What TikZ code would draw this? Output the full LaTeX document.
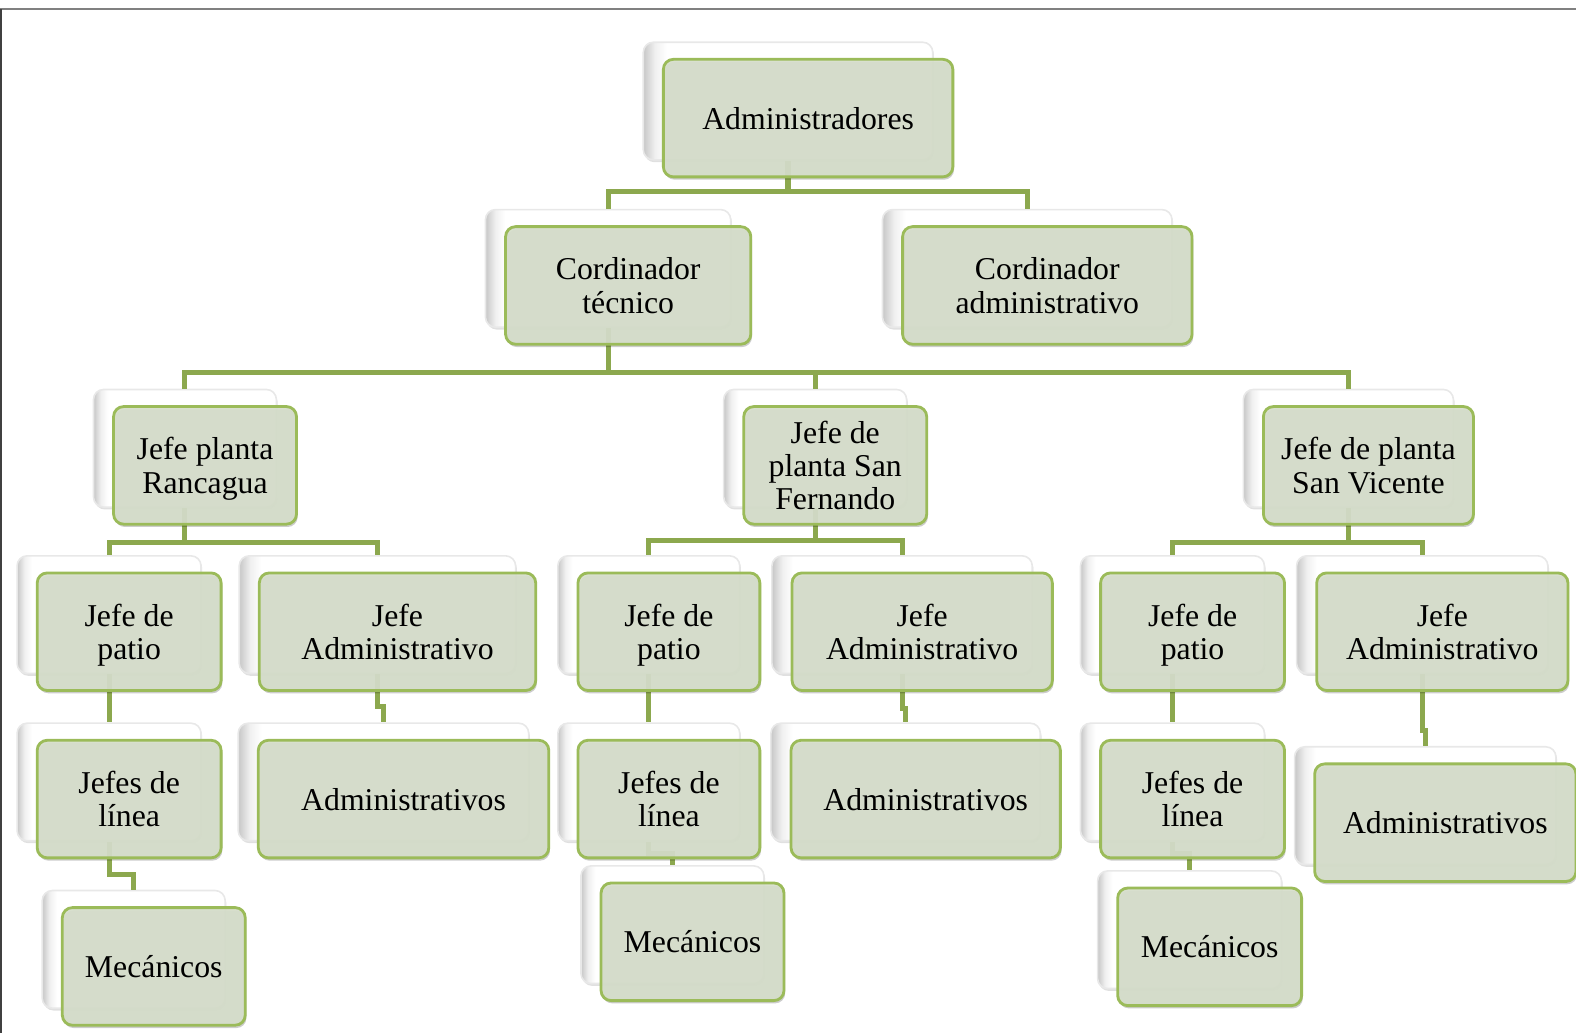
\documentclass[tikz,border=0pt]{standalone}
\usepackage{fontspec}
\setmainfont{Liberation Serif}
\usetikzlibrary{shadows}

\definecolor{boxfill}{RGB}{214,222,203}
\definecolor{boxedge}{RGB}{155,187,89}
\definecolor{linkgreen}{RGB}{140,168,78}

% soft grey fading along the left edge of the white back cards
\pgfdeclarehorizontalshading{cardshade}{100bp}{%
  color(0bp)=(black!22); color(25bp)=(black!22); color(27bp)=(black!6);
  color(29bp)=(white); color(100bp)=(white)}

\pgfdeclarelayer{backboxes}
\pgfdeclarelayer{links}
\pgfsetlayers{backboxes,links,main}

\tikzset{
  backbox/.style={draw=black!9, line width=0.8pt, shading=cardshade, rounded corners=5pt,
    minimum height=58.5pt, inner sep=0pt,
    drop shadow={shadow xshift=0.6pt, shadow yshift=-1.2pt, fill=black, opacity=0.12}},
  frontbox/.style={draw=boxedge, line width=1.4pt, fill=boxfill, fill opacity=0.93,
    text opacity=1, rounded corners=5pt, minimum height=58.5pt, inner sep=0pt,
    align=center, font=\fontsize{15.8}{16.5}\selectfont, text depth=0pt,
    drop shadow={shadow xshift=0.6pt, shadow yshift=-1.4pt, fill=black, opacity=0.2}},
  conn/.style={draw=linkgreen, line width=2.5pt},
  frameline/.style={line width=0.9pt}
}

% name, centre x, centre y, width (px), text
\newcommand{\orgbox}[5]{%
  \begin{pgfonlayer}{backboxes}
    \node[backbox, minimum width=#4*0.5pt] (#1-b) at (#2-20,#3-17) {};
  \end{pgfonlayer}
  \node[frontbox, minimum width=#4*0.5pt] (#1) at (#2,#3) {#5};
}

\begin{document}
\begin{tikzpicture}[x=0.5pt,y=-0.5pt]
\useasboundingbox (0,0) rectangle (1568,1028);

% page frame
\draw[frameline, draw=black!50] (0,9) -- (1568,9);
\draw[frameline, draw=black!75, line width=1.2pt] (1,9) -- (1,1028);

% boxes
\orgbox{adm}{804}{117.5}{288}{Administradores}
\orgbox{ct}{625}{284}{244}{Cordinador\\técnico}
\orgbox{ca}{1042}{284}{288}{Cordinador\\administrativo}

\orgbox{jr}{204}{463}{182}{Jefe planta\\Rancagua}
\orgbox{jsf}{831}{463}{182}{Jefe de\\planta San\\Fernando}
\orgbox{jsv}{1361.5}{463}{209}{Jefe de planta\\San Vicente}

\orgbox{p1}{128.5}{628.5}{183}{Jefe de\\patio}
\orgbox{a1}{395.5}{628.5}{275}{Jefe\\Administrativo}
\orgbox{p2}{665.5}{628.5}{181}{Jefe de\\patio}
\orgbox{a2}{917.5}{628.5}{259}{Jefe\\Administrativo}
\orgbox{p3}{1186.5}{628.5}{183}{Jefe de\\patio}
\orgbox{a3}{1435}{628.5}{250}{Jefe\\Administrativo}

\orgbox{l1}{128.5}{795}{183}{Jefes de\\línea}
\orgbox{ad1}{401.5}{795}{289}{Administrativos}
\orgbox{l2}{665.5}{795}{181}{Jefes de\\línea}
\orgbox{ad2}{921}{795}{268}{Administrativos}
\orgbox{l3}{1186.5}{795}{183}{Jefes de\\línea}
\orgbox{ad3}{1438}{818.5}{260}{Administrativos}

\orgbox{m1}{153}{961.5}{182}{Mecánicos}
\orgbox{m2}{689}{937}{182}{Mecánicos}
\orgbox{m3}{1203.5}{942}{183}{Mecánicos}

% connectors
\begin{pgfonlayer}{links}
  \draw[conn] (adm-b.south) -- (adm-b.south |- 0,191) -| (ct-b.north);
  \draw[conn] (adm-b.south |- 0,191) -| (ca-b.north);

  \draw[conn] (ct-b.south) -- (ct-b.south |- 0,371) -| (jr-b.north);
  \draw[conn] (ct-b.south |- 0,371) -| (jsf-b.north);
  \draw[conn] (ct-b.south |- 0,371) -| (jsv-b.north);

  \draw[conn] (jr-b.south) -- (jr-b.south |- 0,540) -| (p1-b.north);
  \draw[conn] (jr-b.south |- 0,540) -| (a1-b.north);
  \draw[conn] (jsf-b.south) -- (jsf-b.south |- 0,538) -| (p2-b.north);
  \draw[conn] (jsf-b.south |- 0,538) -| (a2-b.north);
  \draw[conn] (jsv-b.south) -- (jsv-b.south |- 0,540) -| (p3-b.north);
  \draw[conn] (jsv-b.south |- 0,540) -| (a3-b.north);

  \draw[conn] (p1-b.south) -- (l1-b.north);
  \draw[conn] (p2-b.south) -- (l2-b.north);
  \draw[conn] (p3-b.south) -- (l3-b.north);

  \draw[conn] (a1-b.south) -- (a1-b.south |- 0,703) -| (ad1-b.north);
  \draw[conn] (a2-b.south) -- (a2-b.south |- 0,705) -| (ad2-b.north);
  \draw[conn] (a3-b.south) -- (a3-b.south |- 0,727) -| (ad3-b.north);

  \draw[conn] (l1-b.south) -- (l1-b.south |- 0,870) -| (m1-b.north);
  \draw[conn] (l2-b.south) -- (l2-b.south |- 0,849) -| (m2-b.north);
  \draw[conn] (l3-b.south) -- (l3-b.south |- 0,849) -| (m3-b.north);
\end{pgfonlayer}
\end{tikzpicture}
\end{document}
